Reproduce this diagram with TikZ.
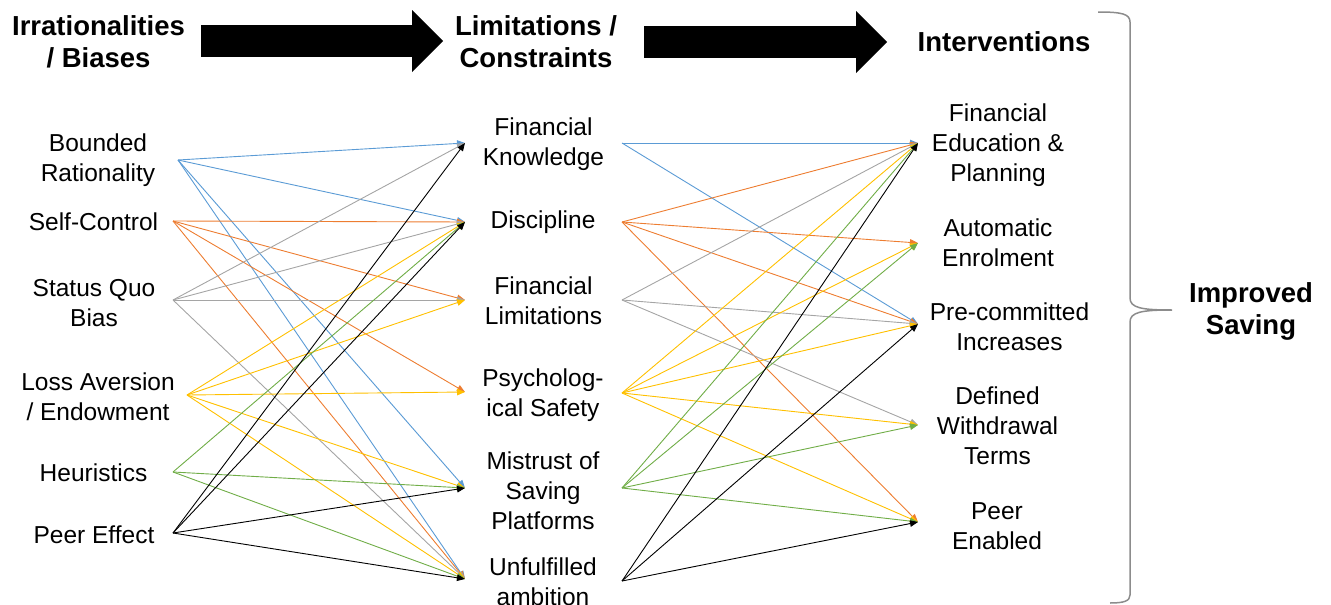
\documentclass[tikz,border=0pt]{standalone}
\usepackage{fontspec}
\setmainfont{Liberation Sans}
\usetikzlibrary{arrows.meta}
\definecolor{cblue}{HTML}{5B9BD5}
\definecolor{corange}{HTML}{ED7D31}
\definecolor{cgray}{HTML}{A5A5A5}
\definecolor{cyellow}{HTML}{FFC000}
\definecolor{cgreen}{HTML}{70AD47}
\definecolor{cbrace}{HTML}{8C8C8C}
\tikzset{
    every node/.style={inner sep=0mm, align=center, font=\fontsize{24.5}{30}\selectfont}
}
\tikzset{head/.style={font=\fontsize{27.5}{32}\selectfont\bfseries}}
\tikzset{link/.style={line width=0.9pt, -{Triangle[length=8pt, width=6.5pt]}}}
\tikzset{bigarrow/.style={line width=32pt, -{Triangle[length=31pt, width=62pt, line width=0pt]}}}

\begin{document}
\begin{tikzpicture}[x=1pt, y=-1pt]
        \useasboundingbox (0,0) rectangle (1331,605);
        % column heads
        \node (h1) [head] at (98.5, 42) {Irrationalities\\/ Biases};
        \node (h2) [head] at (536, 42) {Limitations /\\Constraints};
        \node (h3) [head] at (1004, 42) {Interventions};
        \node (h4) [head] at (1251, 311) {Improved\\Saving};
        \coordinate (a1s) at (201, 41);
        \coordinate (a1e) at (443, 41);
        \coordinate (a2s) at (644, 42);
        \coordinate (a2e) at (887, 42);
        \draw (a1s) edge [bigarrow] (a1e);
        \draw (a2s) edge [bigarrow] (a2e);
        % biases
        \node (b1) at (98, 160) {Bounded\\Rationality};
        \node (b2) at (93.5, 222) {Self-Control};
        \node (b3) at (94, 303) {Status Quo\\Bias};
        \node (b4) at (98, 396.5) {Loss Aversion\\/ Endowment};
        \node (b5) at (93.5, 473) {Heuristics};
        \node (b6) at (94, 535) {Peer Effect};
        % constraints
        \node (c1) at (543.5, 144) {Financial\\Knowledge};
        \node (c2) at (543, 222) {Discipline};
        \node (c3) at (543.5, 301) {Financial\\Limitations};
        \node (c4) at (543, 395) {Psycholog-\\ical Safety};
        \node (c5) at (543, 491) {Mistrust of\\Saving\\Platforms};
        \node (c6) at (543, 582) {Unfulfilled\\ambition};
        % interventions
        \node (i1) at (998, 145) {Financial\\Education \&\\Planning};
        \node (i2) at (998, 243) {Automatic\\Enrolment};
        \node (i3) at (1009.5, 327) {Pre-committed\\Increases};
        \node (i4) at (997.5, 426) {Defined\\Withdrawal\\Terms};
        \node (i5) at (997, 526) {Peer\\Enabled};
        % line ends
        \coordinate (b1o) at (178, 160);
        \coordinate (b2o) at (173, 221);
        \coordinate (b3o) at (173, 300);
        \coordinate (b4o) at (187, 395);
        \coordinate (b5o) at (173, 472);
        \coordinate (b6o) at (173, 533);
        \coordinate (c1i) at (465, 143);
        \coordinate (c2i) at (465, 222);
        \coordinate (c3i) at (465, 300);
        \coordinate (c4i) at (465, 392);
        \coordinate (c5i) at (465, 488);
        \coordinate (c6i) at (465, 579);
        \coordinate (c1o) at (622, 143);
        \coordinate (c2o) at (622, 222);
        \coordinate (c3o) at (622, 300);
        \coordinate (c4o) at (622, 393);
        \coordinate (c5o) at (622, 488);
        \coordinate (c6o) at (622, 581);
        \coordinate (i1i) at (918, 143);
        \coordinate (i2i) at (918, 243);
        \coordinate (i3i) at (918, 324);
        \coordinate (i4i) at (918, 425);
        \coordinate (i5i) at (918, 522);
        % biases -> constraints
        \draw (b1o) edge [link, cblue] (c1i);
        \draw (b1o) edge [link, cblue] (c2i);
        \draw (b1o) edge [link, cblue] (c5i);
        \draw (b1o) edge [link, cblue] (c6i);
        \draw (b2o) edge [link, corange] (c2i);
        \draw (b2o) edge [link, corange] (c3i);
        \draw (b2o) edge [link, corange] (c4i);
        \draw (b2o) edge [link, corange] (c6i);
        \draw (b3o) edge [link, cgray] (c1i);
        \draw (b3o) edge [link, cgray] (c2i);
        \draw (b3o) edge [link, cgray] (c3i);
        \draw (b3o) edge [link, cgray] (c6i);
        \draw (b4o) edge [link, cyellow] (c2i);
        \draw (b4o) edge [link, cyellow] (c3i);
        \draw (b4o) edge [link, cyellow] (c4i);
        \draw (b4o) edge [link, cyellow] (c5i);
        \draw (b4o) edge [link, cyellow] (c6i);
        \draw (b5o) edge [link, cgreen] (c2i);
        \draw (b5o) edge [link, cgreen] (c5i);
        \draw (b5o) edge [link, cgreen] (c6i);
        \draw (b6o) edge [link, black] (c1i);
        \draw (b6o) edge [link, black] (c2i);
        \draw (b6o) edge [link, black] (c5i);
        \draw (b6o) edge [link, black] (c6i);
        % constraints -> interventions
        \draw (c1o) edge [link, cblue] (i1i);
        \draw (c1o) edge [link, cblue] (i3i);
        \draw (c2o) edge [link, corange] (i1i);
        \draw (c2o) edge [link, corange] (i2i);
        \draw (c2o) edge [link, corange] (i3i);
        \draw (c2o) edge [link, corange] (i5i);
        \draw (c3o) edge [link, cgray] (i1i);
        \draw (c3o) edge [link, cgray] (i3i);
        \draw (c3o) edge [link, cgray] (i4i);
        \draw (c4o) edge [link, cyellow] (i1i);
        \draw (c4o) edge [link, cyellow] (i2i);
        \draw (c4o) edge [link, cyellow] (i3i);
        \draw (c4o) edge [link, cyellow] (i4i);
        \draw (c4o) edge [link, cyellow] (i5i);
        \draw (c5o) edge [link, cgreen] (i1i);
        \draw (c5o) edge [link, cgreen] (i2i);
        \draw (c5o) edge [link, cgreen] (i4i);
        \draw (c5o) edge [link, cgreen] (i5i);
        \draw (c6o) edge [link, black] (i1i);
        \draw (c6o) edge [link, black] (i3i);
        \draw (c6o) edge [link, black] (i5i);
        % brace round the interventions
        \draw [cbrace, line width=1.5pt]
            (1098, 12) .. controls (1122, 12) and (1130, 14) .. (1130, 22)
            -- (1130, 298) .. controls (1130, 308) and (1142, 310) .. (1172, 310)
            .. controls (1142, 310) and (1130, 312) .. (1130, 322)
            -- (1130, 595) .. controls (1130, 601) and (1124, 603) .. (1110, 603);
\end{tikzpicture}
\end{document}
